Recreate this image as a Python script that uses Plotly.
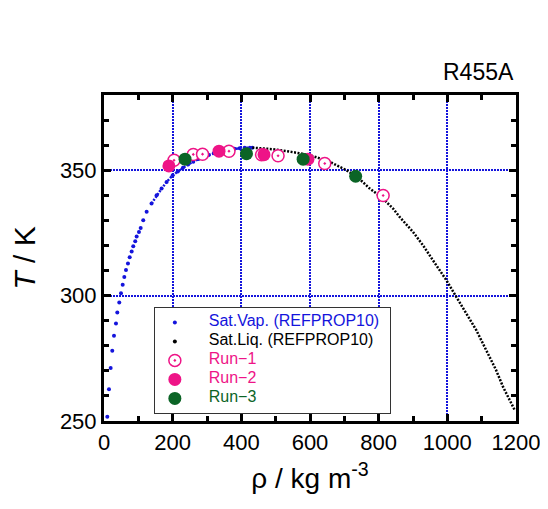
import plotly.graph_objects as go

# Saturated vapour curve (density kg/m3, temperature K)
vap_rho = [9.6, 14.5, 19.4, 24.1, 29.1, 34.9, 38.7, 44.5, 49.5, 54.4, 59.1, 64.0, 69.8, 74.8, 80.6,
           85.2, 91.0, 95.1, 101.8, 106.8, 114.3, 124.2, 138.5, 153.3, 167.7, 182.4, 200, 215, 230,
           245, 260, 275, 290, 305, 320, 335, 350, 365, 380, 395, 410, 425, 432]
vap_T = [251.7, 262.7, 271.1, 278.0, 284.0, 288.9, 293.3, 297.3, 300.9, 304.3, 307.4, 310.2, 312.8, 315.3, 317.6,
         319.7, 321.7, 323.6, 325.4, 327.0, 330.1, 333.4, 336.7, 340.0, 342.7, 345.3, 348.0, 349.5, 351.0,
         352.3, 353.4, 354.5, 355.4, 356.1, 356.8, 357.4, 357.9, 358.3, 358.6, 358.8, 358.95, 359.0, 359.0]

# Saturated liquid curve
liq_rho = [432, 450, 470, 490, 512, 535, 560, 580, 599, 620, 640, 660, 680, 706, 725, 745, 774, 812, 842,
           861, 900, 929, 958, 997, 1026, 1055, 1084, 1113, 1142, 1162, 1181, 1196]
liq_T = [359.0, 358.9, 358.7, 358.4, 358.0, 357.6, 357.0, 356.5, 356.0, 355.1, 354.3, 353.2, 351.8, 350.0, 348.3,
         346.4, 342.7, 338.8, 334.7, 331.4, 325.4, 320.1, 314.1, 306.2, 299.5, 292.9, 286.3, 278.3, 270.3,
         263.7, 258.4, 254.4]

# Measurements
run1_rho = [204, 260, 287, 364, 459, 507, 643, 813]
run1_T = [354.0, 356.3, 356.4, 357.6, 356.2, 355.8, 352.7, 339.9]
run2_rho = [189, 335, 466, 594]
run2_T = [351.7, 357.6, 356.2, 354.4]
run3_rho = [236, 415, 580, 733]
run3_T = [354.4, 356.6, 354.4, 347.6]

BLUE = "#1414DC"
PINK = "#EE1487"
GREEN = "#0B6426"
FONT = "Arial, Liberation Sans, sans-serif"

PAD = "\u00a0" * 5

def leg(text, color):
    return f'{PAD}<span style="color:{color};font-size:16px">{text}</span>\u00a0\u00a0'

# dense upper part of the vapour branch, where the dots merge into a line
vap_up = [(r, t) for r, t in zip(vap_rho, vap_T) if t >= 336]

fig = go.Figure()
fig.add_trace(go.Scatter(x=[p[0] for p in vap_up], y=[p[1] for p in vap_up], mode="lines", showlegend=False,
                         line=dict(color=BLUE, width=2.5, dash="2px,1.5px")))
fig.add_trace(go.Scatter(x=vap_rho, y=vap_T, mode="markers",
                         name=leg("Sat.Vap. (REFPROP10)", BLUE),
                         marker=dict(color=BLUE, size=4, line=dict(width=0))))
fig.add_trace(go.Scatter(x=liq_rho, y=liq_T, mode="lines", showlegend=False,
                         line=dict(color="black", width=2.5, dash="2px,1.5px")))
fig.add_trace(go.Scatter(x=[None], y=[None], mode="markers",
                         name=leg("Sat.Liq. (REFPROP10)", "black"),
                         marker=dict(color="black", size=4, line=dict(width=0))))
fig.add_trace(go.Scatter(x=run1_rho, y=run1_T, mode="markers",
                         name=leg("Run\u22121", PINK),
                         marker=dict(symbol="circle-dot", size=12, color="white",
                                     line=dict(color=PINK, width=1.5))))
fig.add_trace(go.Scatter(x=run2_rho, y=run2_T, mode="markers",
                         name=leg("Run\u22122", PINK),
                         marker=dict(symbol="circle", size=13, color=PINK, line=dict(width=0))))
fig.add_trace(go.Scatter(x=run3_rho, y=run3_T, mode="markers",
                         name=leg("Run\u22123", GREEN),
                         marker=dict(symbol="circle", size=13, color=GREEN, line=dict(width=0))))

axis_common = dict(
    showline=True, linecolor="black", linewidth=3, mirror="allticks",
    ticks="inside", ticklen=7, tickwidth=3, tickcolor="black",
    showgrid=True, gridcolor=BLUE, gridwidth=2, griddash="2px,1px",
    zeroline=False, tickfont=dict(family=FONT, size=22, color="black"),
)

fig.update_xaxes(range=[0, 1200], dtick=200, tick0=0,
                 minor=dict(dtick=100, ticks="inside", ticklen=5, tickwidth=3, tickcolor="black", showgrid=False),
                 title=dict(text="\u03c1 / kg m<sup>-3</sup>", font=dict(family=FONT, size=28, color="black"), standoff=14),
                 **axis_common)
fig.update_yaxes(range=[250, 380], dtick=50, tick0=250,
                 minor=dict(dtick=10, ticks="inside", ticklen=5, tickwidth=3, tickcolor="black", showgrid=False),
                 title=dict(text="<i>T</i> / K", font=dict(family=FONT, size=30, color="black"), standoff=26),
                 **axis_common)

fig.add_annotation(text="R455A", xref="paper", yref="paper", x=1.0, y=1.0,
                   xanchor="right", yanchor="bottom", yshift=8, showarrow=False,
                   font=dict(family=FONT, size=23, color="black"))

fig.update_layout(
    width=540, height=501,
    margin=dict(l=96, r=32, t=87, b=88, autoexpand=False),
    paper_bgcolor="white", plot_bgcolor="white",
    showlegend=True,
    legend=dict(x=0.121, y=0.35, xanchor="left", yanchor="top",
                bgcolor="white", bordercolor="#333333", borderwidth=1,
                font=dict(family=FONT, size=10, color="black"),
                itemsizing="trace"),
)

fig.write_html("out.html")
